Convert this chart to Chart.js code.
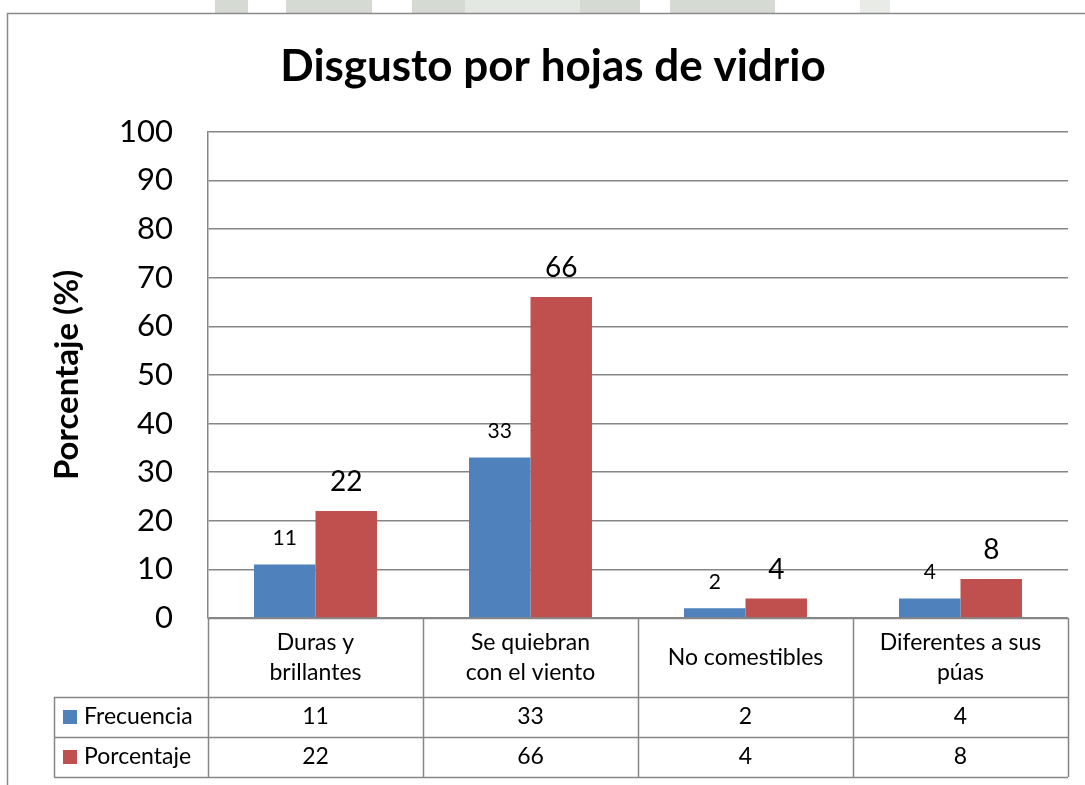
<!DOCTYPE html>
<html>
<head>
<meta charset="utf-8">
<script src="https://cdn.jsdelivr.net/npm/chart.js@4/dist/chart.umd.min.js"></script>
<style>
  html, body { margin: 0; padding: 0; background: #fff; }
  #wrap { width: 1085px; height: 785px; position: relative; }
</style>
</head>
<body>
<div id="wrap"><canvas id="chart"></canvas></div>
<script>
// --- data ---
const categories = [['Duras y', 'brillantes'], ['Se quiebran', 'con el viento'], ['No comestibles'], ['Diferentes a sus', 'púas']];
const frecuencia = [11, 33, 2, 4];
const porcentaje = [22, 66, 4, 8];
const seriesNames = ['Frecuencia', 'Porcentaje'];
const yTicks = [0, 10, 20, 30, 40, 50, 60, 70, 80, 90, 100];

const BLUE = '#4f81bd';
const RED = '#c0504d';
const LINE = '#868686';
const FONT = 'Lato, "Open Sans", sans-serif';
const LEFT_PAD = 38;

// faint watermark strip above the frame (page scan residue)
const backdropPlugin = {
  id: 'backdrop',
  beforeDraw(chart) {
    const { ctx } = chart;
    ctx.save();
    ctx.fillStyle = '#d5dbd2';
    ctx.fillRect(215, 0, 560, 13);
    ctx.fillStyle = '#e4e8e2';
    ctx.fillRect(465, 0, 115, 13);
    ctx.fillStyle = '#fff';
    ctx.fillRect(248, 0, 38, 13);
    ctx.fillRect(372, 0, 40, 13);
    ctx.fillRect(640, 0, 30, 13);
    ctx.fillStyle = '#e8ebe6';
    ctx.fillRect(860, 0, 30, 13);
    ctx.restore();
  }
};

// frame, value labels, category axis and data table under the plot
const tablePlugin = {
  id: 'tableAxis',
  afterDraw(chart) {
    const { ctx, chartArea: a, scales: { x } } = chart;
    const n = categories.length;
    const cw = a.width / n;
    const row0 = a.bottom, row1 = a.bottom + 79, row2 = row1 + 40, row3 = row2 + 40;
    const legLeft = 54;
    ctx.save();

    // outer frame
    ctx.strokeStyle = '#8a8a8a';
    ctx.lineWidth = 1.5;
    ctx.strokeRect(7.5, 13.5, 1200, 900);

    // value labels above bars
    const sets = chart.data.datasets;
    sets.forEach((ds, di) => {
      const meta = chart.getDatasetMeta(di);
      ctx.fillStyle = '#000';
      ctx.textAlign = 'center';
      ctx.textBaseline = 'middle';
      ctx.font = (di === 0 ? '21px ' : '28px ') + FONT;
      meta.data.forEach((bar, i) => {
        ctx.fillText(String(ds.data[i]), bar.x, bar.y - (di === 0 ? 26 : 29));
      });
    });

    // grid of the table
    ctx.strokeStyle = LINE;
    ctx.lineWidth = 1.5;
    ctx.beginPath();
    ctx.moveTo(a.left, row0 + 0.5); ctx.lineTo(a.right, row0 + 0.5);
    [row1, row2, row3].forEach(r => { ctx.moveTo(legLeft, r + 0.5); ctx.lineTo(a.right, r + 0.5); });
    for (let i = 0; i <= n; i++) {
      const xx = Math.round(a.left + i * cw) + 0.5;
      ctx.moveTo(xx, row0); ctx.lineTo(xx, row3);
    }
    ctx.moveTo(legLeft + 0.5, row1); ctx.lineTo(legLeft + 0.5, row3);
    ctx.stroke();

    // category labels
    ctx.fillStyle = '#000';
    ctx.textAlign = 'center';
    ctx.textBaseline = 'middle';
    ctx.font = '23px ' + FONT;
    categories.forEach((lines, i) => {
      const cx = x.getPixelForValue(i);
      const mid = (row0 + row1) / 2;
      lines.forEach((t, k) => {
        ctx.fillText(t, cx, mid + (k - (lines.length - 1) / 2) * 30);
      });
    });

    // table rows
    const rows = [row1, row2];
    sets.forEach((ds, di) => {
      const cy = rows[di] + 20;
      ctx.fillStyle = ds.backgroundColor;
      ctx.fillRect(63, cy - 7, 14, 14);
      ctx.fillStyle = '#000';
      ctx.textAlign = 'left';
      ctx.fillText(seriesNames[di], 84, cy);
      ctx.textAlign = 'center';
      ds.data.forEach((v, i) => ctx.fillText(String(v), x.getPixelForValue(i), cy));
    });
    ctx.restore();
  }
};

new Chart(document.getElementById('chart'), {
  type: 'bar',
  data: {
    labels: categories.map(c => c.join(' ')),
    datasets: [
      { label: seriesNames[0], data: frecuencia, backgroundColor: BLUE, barPercentage: 1, categoryPercentage: 0.572 },
      { label: seriesNames[1], data: porcentaje, backgroundColor: RED, barPercentage: 1, categoryPercentage: 0.572 },
    ],
  },
  options: {
    responsive: true,
    maintainAspectRatio: false,
    animation: false,
    layout: { padding: { top: 0, right: 17, bottom: 167, left: LEFT_PAD } },
    plugins: {
      legend: { display: false },
      tooltip: { enabled: false },
      title: {
        display: true,
        text: 'Disgusto por hojas de vidrio',
        color: '#000',
        font: { family: FONT, size: 44, weight: 'bold', lineHeight: 1.2 },
        padding: { top: 40, bottom: 39 },
      },
    },
    scales: {
      x: { display: false },
      y: {
        min: 0,
        max: 100,
        afterFit(s) { s.width = 208 - LEFT_PAD; },
        afterBuildTicks(s) { s.ticks = yTicks.map(v => ({ value: v })); },
        grid: { color: LINE, lineWidth: 1.5, drawTicks: false },
        border: { color: LINE, width: 1.5 },
        ticks: { color: '#000', padding: 35, font: { family: FONT, size: 31 } },
        title: {
          display: true,
          text: 'Porcentaje (%)',
          color: '#000',
          font: { family: FONT, size: 33, weight: 'bold', lineHeight: 1.2 },
          padding: { top: 10, bottom: 0 },
        },
      },
    },
  },
  plugins: [backdropPlugin, tablePlugin],
});
</script>
</body>
</html>
